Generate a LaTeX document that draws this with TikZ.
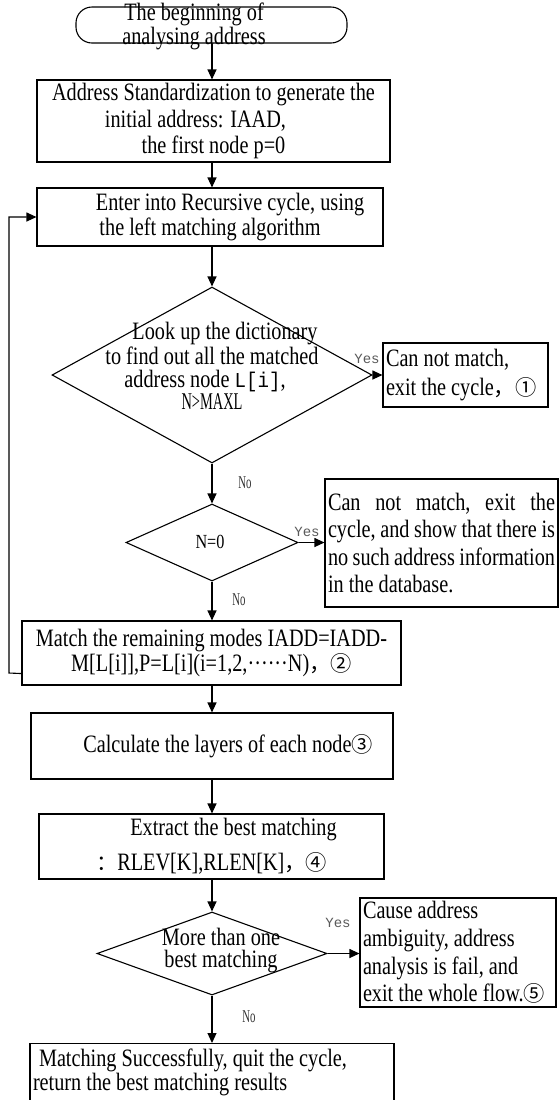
\documentclass[tikz,border=0pt]{standalone}
\usepackage{fontspec}
\setmainfont{Liberation Serif}[FakeStretch=0.81]
\newfontfamily\narrowserif{Liberation Serif}[FakeStretch=0.6]
\newfontfamily\labelmono{Liberation Mono}[Scale=0.78]
\newfontfamily\codefont{Liberation Mono}[Scale=0.85,FakeStretch=0.9]
\newfontfamily\circfont{Noto Sans CJK SC}[Scale=0.85]
\usetikzlibrary{shapes.geometric,arrows.meta,calc}
\newcommand\cnum[1]{{\circfont #1}}
\newcommand\spreadline[1]{\leavevmode\hbox to\linewidth{#1}}

\begin{document}
\begin{tikzpicture}[x=0.5pt,y=-0.5pt,line width=0.55pt,
  flowbox/.style={draw,rectangle,align=center,inner sep=0pt,font=\fontsize{12.5pt}{#1}\selectfont},
  flowbox/.default=11pt,
  notebox/.style={draw,rectangle,align=flush left,inner xsep=1.5pt,inner ysep=0pt,font=\fontsize{12.5pt}{#1}\selectfont},
  notebox/.default=11pt,
  terminal/.style={draw,rectangle,rounded corners=8pt,inner sep=0pt},
  decision/.style={draw,diamond,inner sep=0pt},
  inlabel/.style={align=center,inner sep=0pt,font=\fontsize{12.5pt}{#1}\selectfont},
  inlabel/.default=11pt,
  flow/.style={-{Triangle[length=5pt,width=4.5pt]}},
  yeslabel/.style={inner sep=0pt,text=black!65,font=\labelmono\fontsize{9pt}{9pt}\selectfont},
  nolabel/.style={inner sep=0pt,text=black!80,font=\narrowserif\fontsize{9pt}{9pt}\selectfont},
]
\useasboundingbox (0,0) rectangle (559,1100);
\fill[white] (0,0) rectangle (559,1100);
\clip (0,0) rectangle (559,1100);

% column of the main flow
\coordinate (col) at (212,0);

% start terminal
\node[terminal,minimum width=135.5pt,minimum height=18pt] (start) at (211.5,25) {};
\node[inlabel=10.5pt] (starttext) at (194,26.5) {The beginning of\\analysing address};

% process boxes
\node[flowbox=13.25pt,minimum width=176.5pt,minimum height=41pt] (std) at (213.5,121)
  {Address Standardization to generate the\\initial address: IAAD,\hspace*{18pt}\mbox{}\\the first node p=0};
\node[flowbox=10pt,minimum width=173pt,minimum height=29pt] (enter) at (210,217)
  {\hspace*{20pt}Enter into Recursive cycle, using\\the left matching algorithm};

% first decision
\node[decision,minimum width=160pt,minimum height=88pt] (look) at (212,375) {};
\node[inlabel=11.4pt] (looktext) at (212,366)
  {\hspace*{13pt}Look up the dictionary\\to find out all the matched\\address node {\codefont L[i]},\hspace*{7pt}\mbox{}\\{\narrowserif\fontsize{12pt}{11.4pt}\selectfont N>MAXL}};
\node[notebox=14.5pt,text width=79.5pt,minimum height=32pt] (exit1) at (465.5,375)
  {Can not match,\\exit the cycle{\circfont ，}\cnum{①}};

% second decision
\node[decision,minimum width=86pt,minimum height=38.5pt] (nzero) at (212,542.5) {};
\node[inlabel,font=\fontsize{10pt}{10pt}\selectfont] (nzerotext) at (210,542) {N=0};
\node[notebox=13.8pt,text width=113.5pt,minimum height=64pt] (nodata) at (441.5,543)
  {\spreadline{Can\hfill not\hfill match,\hfill exit\hfill the}\\
   \spreadline{cycle,\hfill and\hfill show\hfill that\hfill there\hfill is}\\
   \spreadline{no\hfill such\hfill address\hfill information}\\
   in the database.};

% matching and layering
\node[flowbox=11pt,minimum width=189.5pt,minimum height=32pt] (match) at (211.5,653)
  {Match the remaining modes IADD=IADD-\\M[L[i]],P=L[i](i=1,2,······N){\circfont ，}\cnum{②}};
\node[flowbox,minimum width=181pt,minimum height=33pt] (layers) at (212,746)
  {\hspace*{16pt}Calculate the layers of each node\cnum{③}};
\node[flowbox=17.5pt,minimum width=172.5pt,minimum height=32.5pt] (best) at (211.5,846.5)
  {\hspace*{22pt}Extract the best matching\\{\circfont ：}RLEV[K],RLEN[K]{\circfont ，}\cnum{④}};

% third decision
\node[decision,minimum width=115pt,minimum height=41.5pt] (multi) at (212,953.5) {};
\node[inlabel=11pt] (multitext) at (221,951) {More than one\\best matching};
\node[notebox=13.8pt,text width=95pt,minimum height=54.5pt] (ambig) at (458,952.5)
  {Cause address\\ambiguity, address\\analysis is fail, and\\exit the whole flow.\cnum{⑤}};

% final box, running off the lower edge
\node[notebox=10pt,text width=179pt,anchor=north,inner ysep=2.5pt,text depth=25pt] (done) at (212,1043)
  {\hspace*{3pt}Matching Successfully, quit the cycle,\\return the best matching results};

% main flow
\draw[flow] (col |- start.south) -- (col |- std.north);
\draw[flow] (col |- std.south) -- (col |- enter.north);
\draw[flow] (col |- enter.south) -- (look.north);
\draw[flow] (look.south) -- (nzero.north);
\draw[flow] (nzero.south) -- (col |- match.north);
\draw[flow] (col |- match.south) -- (col |- layers.north);
\draw[flow] (col |- layers.south) -- (col |- best.north);
\draw[flow] (col |- best.south) -- (multi.north);
\draw[flow] (multi.south) -- (col |- done.north);

% side exits
\draw[flow] (look.east) -- (look.east -| exit1.west);
\draw[flow] (nzero.east) -- (nzero.east -| nodata.west);
\draw[flow] (multi.east) -- (multi.east -| ambig.west);

% loop back into the recursive cycle
\coordinate (loopout) at ($(match.south west)+(0,-12)$);
\coordinate (loopturn) at (9,673);
\draw[flow] (loopout) -- (loopturn) |- (enter.west);

% branch labels
\node[yeslabel] (yes1) at (367,359) {Yes};
\node[yeslabel] (yes2) at (307,532) {Yes};
\node[yeslabel] (yes3) at (338,923) {Yes};
\node[nolabel] (no1) at (245,483) {No};
\node[nolabel] (no2) at (239,600) {No};
\node[nolabel] (no3) at (249,1017) {No};
\end{tikzpicture}
\end{document}
